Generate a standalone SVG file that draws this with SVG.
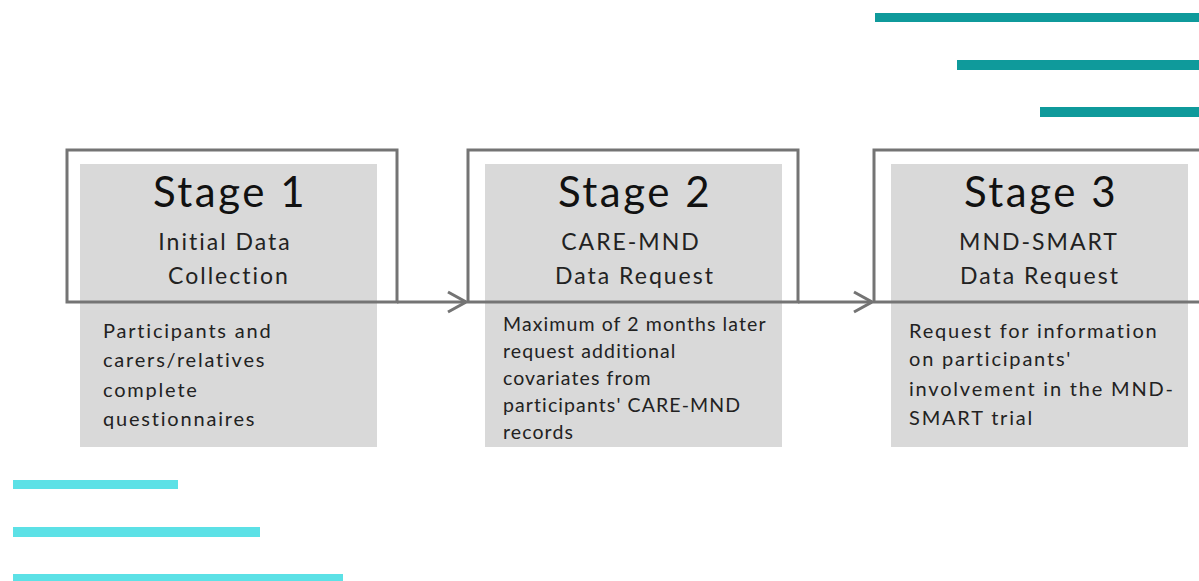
<svg xmlns="http://www.w3.org/2000/svg" width="1199" height="581" viewBox="0 0 1199 581">
<style>
.bg{fill:#d9d9d9}
.frame{fill:none;stroke:#747474;stroke-width:3}
.conn{fill:none;stroke:#747474;stroke-width:3}
.title{font-family:Lato,"Open Sans",sans-serif;font-size:42px;fill:#111;text-anchor:middle;letter-spacing:2.5px}
.sub{font-family:Lato,"Open Sans",sans-serif;font-size:23px;fill:#222;text-anchor:middle;letter-spacing:2px}
.body{font-family:Lato,"Open Sans",sans-serif;font-size:20px;fill:#222;letter-spacing:1.8px}
.body2{font-family:Lato,"Open Sans",sans-serif;font-size:19.5px;fill:#222;letter-spacing:1.1px}
.teal{fill:#0f9a9b}
.cyan{fill:#5ce1e6}
</style>
<defs>
<marker id="chev" viewBox="0 0 20 24" refX="19" refY="12" markerWidth="20" markerHeight="24" markerUnits="userSpaceOnUse" orient="auto">
<path d="M1,2 L19,12 L1,22" fill="none" stroke="#747474" stroke-width="3"/>
</marker>
</defs>
<g id="decor">
<rect class="teal" x="875" y="13" width="324" height="9"/>
<rect class="teal" x="957" y="60" width="242" height="10"/>
<rect class="teal" x="1040" y="107" width="159" height="10"/>
<rect class="cyan" x="13" y="480" width="165" height="9"/>
<rect class="cyan" x="13" y="527" width="247" height="10"/>
<rect class="cyan" x="13" y="574" width="330" height="9"/>
</g>
<g id="stage1">
<rect class="bg" x="80" y="164" width="297" height="283"/>
<rect class="frame" x="67" y="150" width="330" height="152"/>
<text class="title" x="230" y="207">Stage 1</text>
<text class="sub" x="225" y="250">Initial Data</text>
<text class="sub" x="229" y="284">Collection</text>
<text class="body" x="103" y="338">Participants and</text>
<text class="body" x="103" y="367">carers/relatives</text>
<text class="body" x="103" y="397">complete</text>
<text class="body" x="103" y="426">questionnaires</text>
</g>
<g id="stage2">
<rect class="bg" x="485" y="164" width="297" height="283"/>
<rect class="frame" x="468" y="150" width="330" height="152"/>
<text class="title" x="635" y="207">Stage 2</text>
<text class="sub" x="631" y="250">CARE-MND</text>
<text class="sub" x="635" y="284">Data Request</text>
<text class="body2" x="503" y="331">Maximum of 2 months later</text>
<text class="body2" x="503" y="358">request additional</text>
<text class="body2" x="503" y="385">covariates from</text>
<text class="body2" x="503" y="412">participants' CARE-MND</text>
<text class="body2" x="503" y="439">records</text>
</g>
<g id="stage3">
<rect class="bg" x="891" y="164" width="297" height="283"/>
<rect class="frame" x="874" y="150" width="340" height="152"/>
<text class="title" x="1041" y="207">Stage 3</text>
<text class="sub" x="1039" y="250">MND-SMART</text>
<text class="sub" x="1040" y="284">Data Request</text>
<text class="body" x="909" y="338">Request for information</text>
<text class="body" x="909" y="366">on participants'</text>
<text class="body" x="909" y="396">involvement in the MND-</text>
<text class="body" x="909" y="425">SMART trial</text>
</g>
<g id="connectors">
<line class="conn" x1="397" y1="302" x2="466" y2="302" marker-end="url(#chev)"/>
<line class="conn" x1="798" y1="302" x2="872" y2="302" marker-end="url(#chev)"/>
</g>
</svg>
